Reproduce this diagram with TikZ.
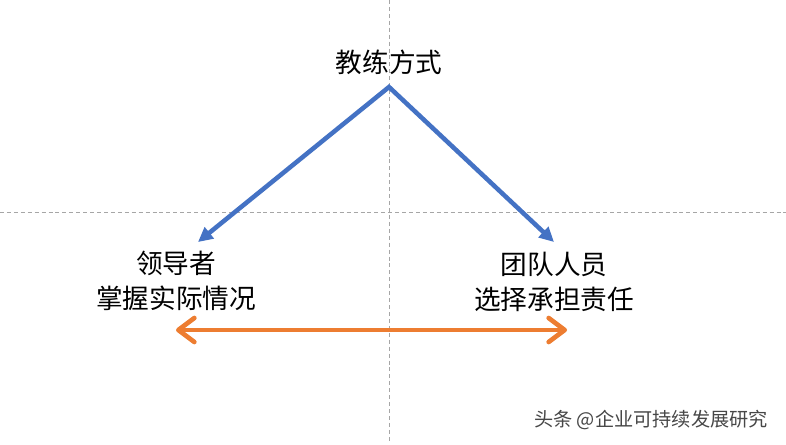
\documentclass[tikz,border=0pt]{standalone}
\usepackage{fontspec}
\setmainfont{Noto Sans CJK SC}
\usetikzlibrary{arrows.meta}
\definecolor{guide}{HTML}{A6A6A6}
\definecolor{pblue}{HTML}{4472C4}
\definecolor{porange}{HTML}{ED7D31}
\begin{document}
\begin{tikzpicture}[x=0.75pt,y=-0.75pt,
  guideline/.style={guide,line width=0.8pt,dash pattern=on 3pt off 2.2pt},
  label/.style={font=\fontsize{20pt}{26.3pt}\selectfont,align=center,inner sep=0pt,text=black},
  bluearrow/.style={pblue,line width=3.4pt,line join=miter,
    arrows={Triangle[length=11pt,width=10.5pt]-Triangle[length=11pt,width=10.5pt]}},
  orangearrow/.style={porange,line width=3.5pt,
    arrows={Straight Barb[length=12pt,width=18pt,line cap=round,line join=round]-Straight Barb[length=12pt,width=18pt,line cap=round,line join=round]}}]
\useasboundingbox (0,0) rectangle (786,444);
\fill[white] (0,0) rectangle (786,444);
% guide lines
\coordinate (vtop) at (389.5,0);
\coordinate (vbot) at (389.5,441);
\coordinate (hl) at (0,212.5);
\coordinate (hr) at (786,212.5);
\draw[guideline] (vtop) -- (vbot);
\draw[guideline] (hl) -- (hr);
% texts
\node[label] (title) at (389,62) {教练方式};
\node[label] (leader) at (176,280.5) {领导者\\掌握实际情况};
\node[label] (team) at (554,281.5) {团队人员\\选择承担责任};
% connectors
\coordinate (apex) at (389,87);
\coordinate (ltip) at (198,242);
\coordinate (rtip) at (554,242);
\draw[bluearrow] (ltip) -- (apex) -- (rtip);
\coordinate (oleft) at (176,330);
\coordinate (oright) at (567,330);
\draw[orangearrow] (oleft) -- (oright);
% source label
\node[font=\fontsize{14.4pt}{17pt}\selectfont,text=black!72,inner sep=0pt] (src) at (651,420) {头条 @企业可持续发展研究};
\end{tikzpicture}
\end{document}
